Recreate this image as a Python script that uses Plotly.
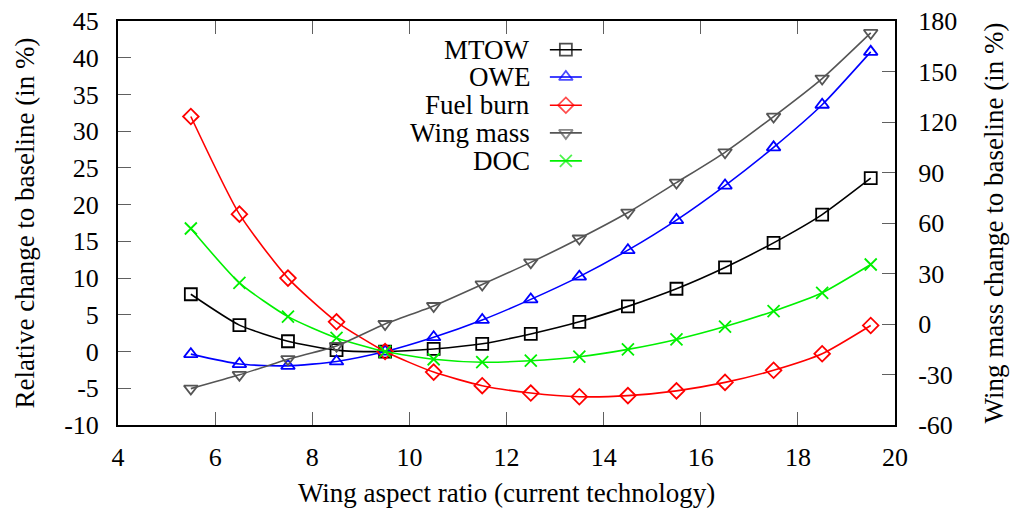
import plotly.graph_objects as go

aspect_ratio = [5.5, 6.5, 7.5, 8.5, 9.5, 10.5, 11.5, 12.5, 13.5, 14.5, 15.5, 16.5, 17.5, 18.5, 19.5]
mtow = [7.8, 3.6, 1.4, 0.2, 0.0, 0.35, 1.05, 2.4, 4.05, 6.15, 8.55, 11.45, 14.8, 18.65, 23.6]
owe = [-0.35, -1.7, -1.95, -1.35, 0.0, 1.95, 4.3, 7.1, 10.2, 13.8, 17.9, 22.6, 27.8, 33.6, 40.8]
fuel_burn = [32.0, 18.7, 10.0, 4.05, 0.0, -2.8, -4.65, -5.65, -6.15, -6.0, -5.35, -4.2, -2.55, -0.3, 3.55]
wing_mass = [-38.4, -30.2, -20.9, -13.0, 0.0, 10.7, 23.5, 36.6, 50.8, 66.2, 84.0, 102.0, 123.2, 145.8, 172.9]
doc = [16.75, 9.35, 4.75, 1.85, 0.0, -1.05, -1.45, -1.25, -0.7, 0.3, 1.65, 3.4, 5.5, 8.0, 11.85]

x_ticks = [4, 6, 8, 10, 12, 14, 16, 18, 20]
y_ticks = [-10, -5, 0, 5, 10, 15, 20, 25, 30, 35, 40, 45]
y_ticktext = ["-10", "-5", "0", "5", "10", "15", "20", "25", "30", "35", "40", "45"]
y2_ticks = [-60, -30, 0, 30, 60, 90, 120, 150, 180]
y2_ticktext = ["-60", "-30", "0", "30", "60", "90", "120", "150", "180"]

FONT = "Liberation Serif, Times New Roman, serif"
FS_TICK = 26
FS_TITLE = 27
FS_LEG = 27

series = [
    ("MTOW", mtow, "#000000", "square-open", "y"),
    ("OWE", owe, "#0000ff", "triangle-up-open", "y"),
    ("Fuel burn", fuel_burn, "#ff0000", "diamond-open", "y"),
    ("Wing mass", wing_mass, "#555555", "triangle-down-open", "y2"),
    ("DOC", doc, "#00f000", "x-thin-open", "y"),
]

fig = go.Figure()
for name, vals, col, sym, yax in series:
    fig.add_trace(go.Scatter(
        x=aspect_ratio, y=vals, name=name, yaxis=yax,
        mode="lines+markers",
        line=dict(color=col, width=1.6, shape="spline", smoothing=0.6),
        marker=dict(symbol=sym, size=12, color=col, line=dict(color=col, width=1.8)),
        showlegend=False, cliponaxis=False,
    ))

# custom legend (text right, sample on the right) in plot-area fraction coords
leg_rows = [0.929, 0.8615, 0.7915, 0.723, 0.6537]
for (name, vals, col, sym, yax), yy in zip(series, leg_rows):
    fig.add_trace(go.Scatter(
        x=[0.5558, 0.5764, 0.597], y=[yy, yy, yy], xaxis="x3", yaxis="y3",
        mode="lines+markers",
        line=dict(color=col, width=1.6),
        marker=dict(symbol=sym, size=[0, 12, 0], color=col, line=dict(color=col, width=1.8)),
        showlegend=False, hoverinfo="skip",
    ))
    fig.add_annotation(x=0.5323, y=yy, xref="x3", yref="y3", text=name,
                       showarrow=False, xanchor="right", yanchor="middle",
                       font=dict(family=FONT, size=FS_LEG, color="#000000"))

tick_col = "#606060"
common = dict(ticks="inside", ticklen=13, tickcolor=tick_col, tickwidth=1.2,
              showline=True, linecolor="#000000", linewidth=2, showgrid=False,
              zeroline=False, tickfont=dict(family=FONT, size=FS_TICK, color="#000000"))
fig.update_layout(
    width=1011, height=516,
    margin=dict(l=118, r=116, t=21, b=91),
    paper_bgcolor="white", plot_bgcolor="white",
    font=dict(family=FONT, size=FS_TICK, color="#000000"),
    xaxis=dict(range=[4, 20], tickvals=x_ticks, mirror="ticks",
               title=dict(text="Wing aspect ratio (current technology)", standoff=12,
                          font=dict(family=FONT, size=FS_TITLE)),
               ticklabelstandoff=8, **common),
    yaxis=dict(range=[-10, 45], tickvals=y_ticks, ticktext=y_ticktext,
               title=dict(text="Relative change to baseline (in %)", standoff=22,
                          font=dict(family=FONT, size=FS_TITLE)),
               ticklabelstandoff=12, **common),
    yaxis2=dict(range=[-60, 180], tickvals=y2_ticks, ticktext=y2_ticktext,
                overlaying="y", side="right",
                title=dict(text="Wing mass change to baseline (in %)", standoff=28,
                           font=dict(family=FONT, size=FS_TITLE)),
                ticklabelstandoff=16, **common),
    xaxis3=dict(range=[0, 1], overlaying="x", visible=False, anchor="y3"),
    yaxis3=dict(range=[0, 1], overlaying="y", visible=False, anchor="x3"),
)
fig.update_xaxes(automargin=False)
fig.update_yaxes(automargin=False)

fig.write_html("out.html")
